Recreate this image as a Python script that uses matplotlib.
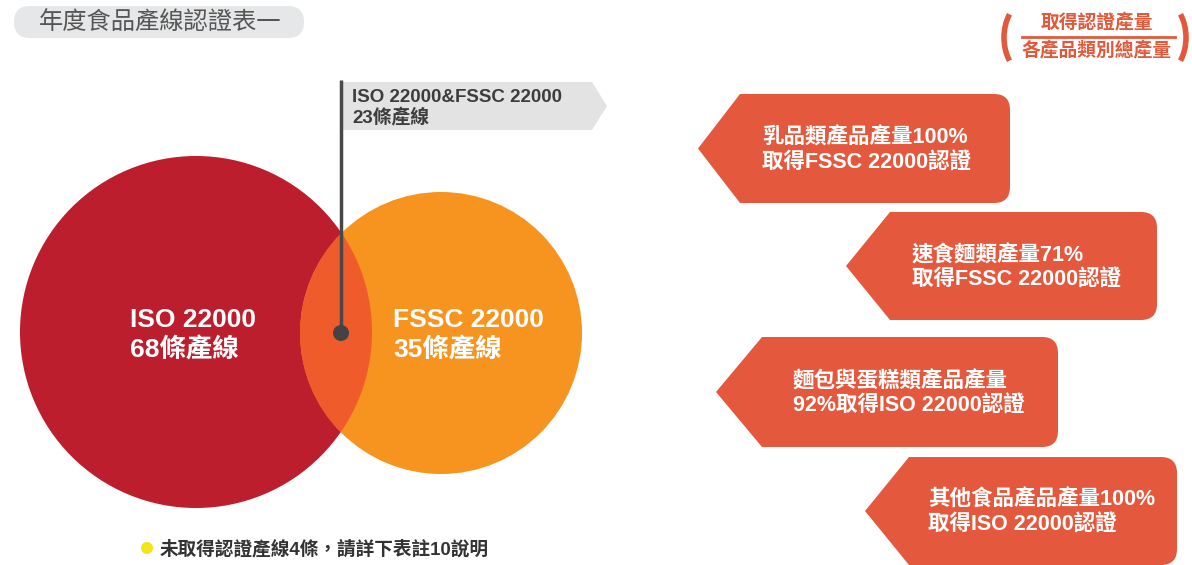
import matplotlib.pyplot as plt
from matplotlib.patches import Circle, Polygon, FancyBboxPatch, Arc

plt.rcParams['font.family'] = ['Liberation Sans', 'Noto Sans CJK TC', 'DejaVu Sans']

# 資料
標題 = "年度食品產線認證表一"
集合名稱 = ["ISO 22000", "FSSC 22000"]
產線數 = [68, 35]
交集名稱 = "ISO 22000&FSSC 22000"
交集產線數 = 23
未認證產線數 = 4
類別 = ["乳品類產品產量", "速食麵類產量", "麵包與蛋糕類產品產量", "其他食品產品產量"]
認證比例 = [100, 71, 92, 100]
認證標準 = ["FSSC 22000", "FSSC 22000", "ISO 22000", "ISO 22000"]
分子 = "取得認證產量"
分母 = "各產品類別總產量"

# 版面 (像素座標)
圓心 = [(196, 332), (441, 333)]
半徑 = [176, 141]
圓色 = ["#bd1e2e", "#f6941f"]
交集色 = "#ef5b2b"
框色 = "#e4593d"
# (尖端x, 肩x, 右x, 上, 下, 文字x)
框 = [(698, 740, 1010, 94, 203, 762),
      (846, 890, 1157, 212, 320, 912),
      (716, 762, 1058, 337, 447, 793),
      (865, 909, 1177, 457, 565, 928)]

fig = plt.figure(figsize=(11.92, 5.65), dpi=100)
ax = fig.add_axes([0, 0, 1, 1])
ax.set_xlim(0, 1192)
ax.set_ylim(565, 0)
ax.axis('off')

# 標題
ax.add_patch(FancyBboxPatch((14, 6), 290, 32, boxstyle="round,pad=0,rounding_size=16",
                            fc="#e6e7e8", ec="none"))
ax.text(160, 22, 標題, fontsize=17.5, color="#555555", ha="center", va="center",
        family="Noto Sans CJK TC")

# 文氏圖
c0 = Circle(圓心[0], 半徑[0], fc=圓色[0], ec="none", zorder=1)
c1 = Circle(圓心[1], 半徑[1], fc=圓色[1], ec="none", zorder=2)
ax.add_patch(c0)
ax.add_patch(c1)
inter = Circle(圓心[1], 半徑[1], fc=交集色, ec="none", zorder=3)
ax.add_patch(inter)
clip = Circle(圓心[0], 半徑[0], transform=ax.transData)
inter.set_clip_path(clip)

ax.text(130, 335, f"{集合名稱[0]}\n{產線數[0]}條產線", color="white", fontsize=19,
        fontweight="bold", ha="left", va="center", linespacing=1.25, zorder=5)
ax.text(393, 335, f"{集合名稱[1]}\n{產線數[1]}條產線", color="white", fontsize=19,
        fontweight="bold", ha="left", va="center", linespacing=1.25, zorder=5)

# 交集標註
ax.add_patch(Polygon([(343, 82), (592, 82), (607, 106), (592, 130), (343, 130)],
                     closed=True, fc="#e3e3e3", ec="none", zorder=4))
ax.plot([341, 341], [80, 333], color="#48484a", lw=2.5, zorder=6, solid_capstyle="butt")
ax.add_patch(Circle((341, 333), 8, fc="#434345", ec="none", zorder=7))
ax.text(352, 108, f"{交集名稱}\n{交集產線數}條產線", color="#3d3d3d", fontsize=13.5,
        fontweight="bold", ha="left", va="center", linespacing=1.12, zorder=6)

# 註解
ax.add_patch(Circle((147, 548), 6, fc="#f2e51a", ec="none"))
ax.text(160, 549, f"未取得認證產線{未認證產線數}條，請詳下表註10說明", color="#333333",
        fontsize=13.4, fontweight="bold", ha="left", va="center")

# 右側標籤
for (xt, xs, xr, top, bot, tx), name, pct, std in zip(框, 類別, 認證比例, 認證標準):
    yc = (top + bot) / 2
    ax.add_patch(FancyBboxPatch((xs, top), xr - xs, bot - top,
                                boxstyle="round,pad=0,rounding_size=16", fc=框色, ec="none"))
    ax.add_patch(Polygon([(xt, yc), (xs, top), (xs + 25, top), (xs + 25, bot), (xs, bot)],
                         closed=True, fc=框色, ec="none"))
    if len(name) > 8:
        txt = f"{name}\n{pct}%取得{std}認證"
    else:
        txt = f"{name}{pct}%\n取得{std}認證"
    ax.text(tx, yc + 2, txt, color="white", fontsize=15.5, fontweight="bold",
            ha="left", va="center", linespacing=1.25)

# 公式
紅 = "#e2583a"
ax.text(1097, 23, 分子, color=紅, fontsize=13.5, fontweight="bold", ha="center", va="center")
ax.plot([1022, 1175], [37, 37], color=紅, lw=2)
ax.text(1097, 51, 分母, color=紅, fontsize=13.5, fontweight="bold", ha="center", va="center")
ax.add_patch(Arc((1029, 37.5), 50, 74, theta1=130, theta2=230, color=紅, lw=4))
ax.add_patch(Arc((1161, 37.5), 50, 74, theta1=-50, theta2=50, color=紅, lw=4))

fig.savefig("out.png", dpi=100)
